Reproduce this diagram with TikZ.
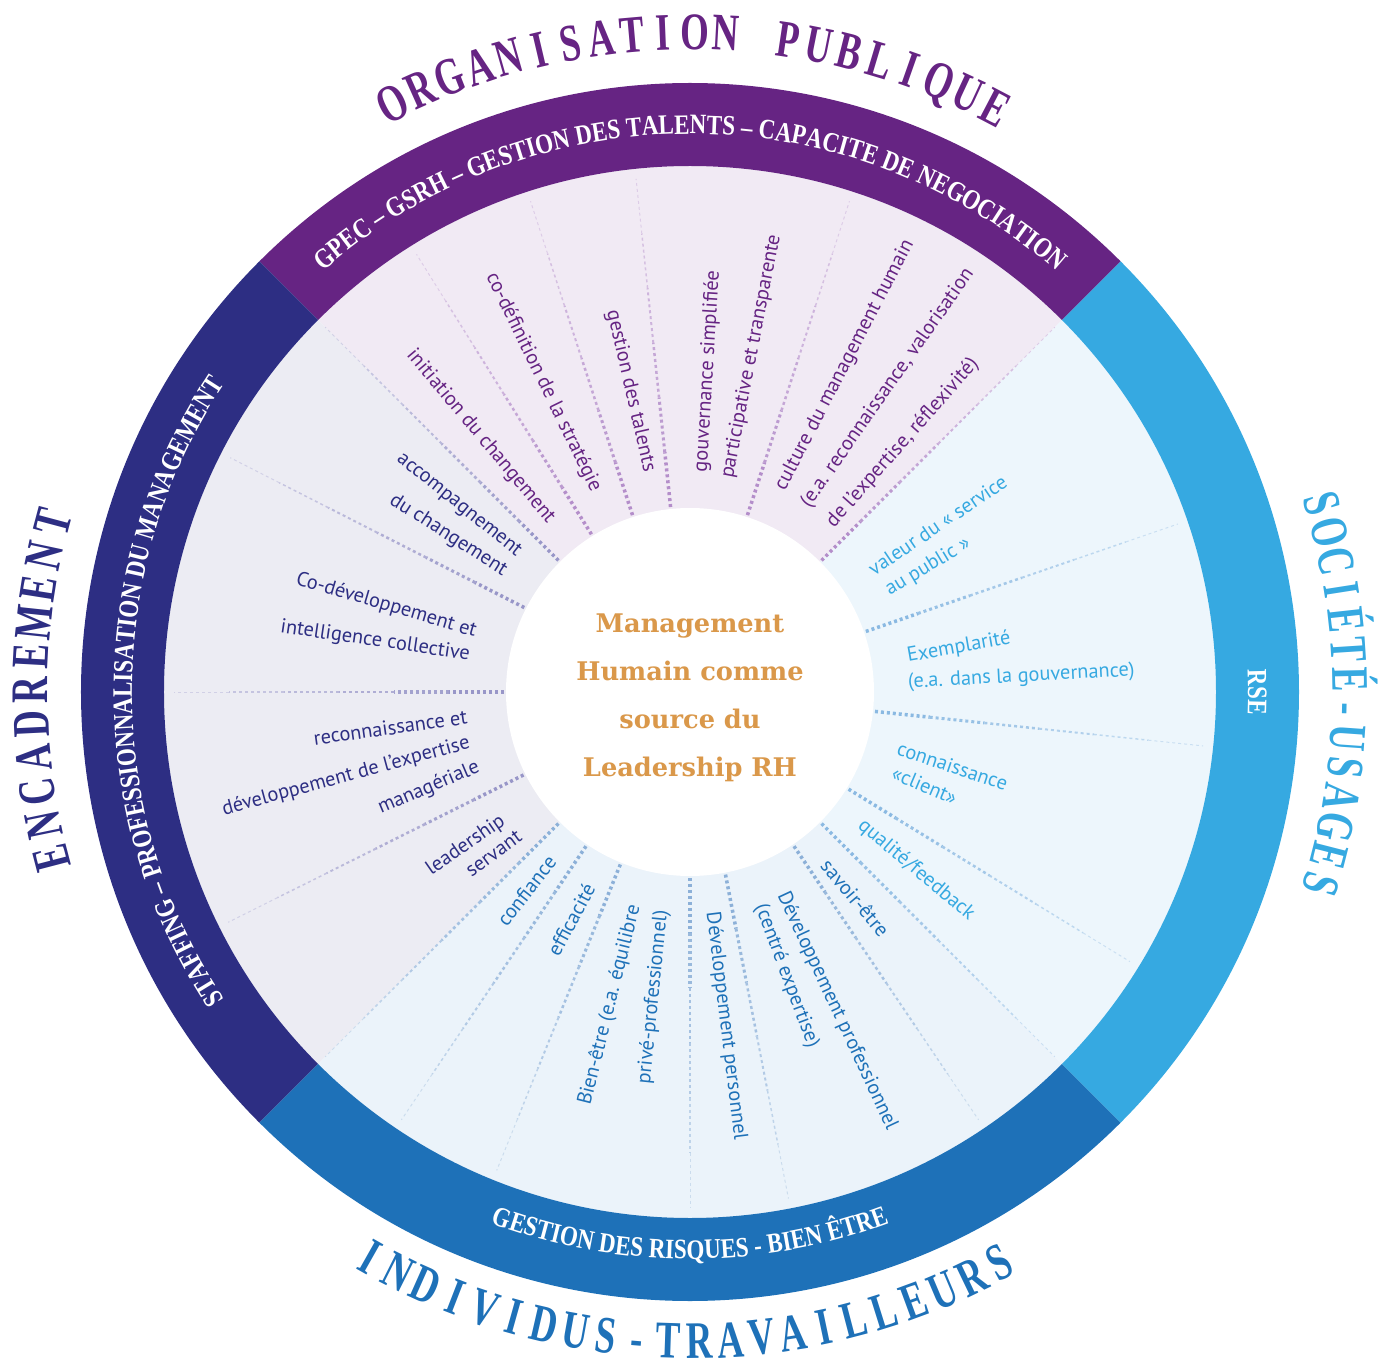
\documentclass[tikz,border=0pt]{standalone}
\usepackage{fontspec}
\usetikzlibrary{decorations.text}

\newfontfamily\lblfont{PT Sans}
\newfontfamily\ctrfont{DejaVu Serif}
\newfontfamily\bandfont[FakeStretch=0.82]{Liberation Serif}
\newfontfamily\ttlfont[FakeStretch=0.7]{Liberation Serif}

\definecolor{ctop}{RGB}{102,36,131}
\definecolor{cleft}{RGB}{45,46,131}
\definecolor{cright}{RGB}{54,169,225}
\definecolor{cbot}{RGB}{30,113,184}
\definecolor{ttop}{RGB}{241,234,244}
\definecolor{tleft}{RGB}{236,236,243}
\definecolor{tright}{RGB}{237,246,252}
\definecolor{tbot}{RGB}{235,243,250}
\definecolor{spktop}{RGB}{180,142,202}
\definecolor{spkleft}{RGB}{152,150,200}
\definecolor{spkright}{RGB}{138,185,226}
\definecolor{spkbot}{RGB}{140,176,216}
\definecolor{corange}{RGB}{218,152,74}

% dotted spoke that thins out towards the rim
\newcommand\radline[2]{%
  \foreach \k in {0,...,5}{%
    \pgfmathsetmacro\w{2.0-0.29*\k}%
    \pgfmathtruncatemacro\op{100-11*\k}%
    \draw[#2!\op, line width=\w pt, dash pattern=on 1.7pt off 1.7pt]
      (#1:{186+55*\k}) -- (#1:{186+55*(\k+1)});
  }%
}

\begin{document}
\begin{tikzpicture}[x=0.02cm, y=0.02cm,
    lbl/.style={font=\lblfont\fontsize{11.6}{13}\selectfont, inner sep=0pt},
    lout/.style={lbl, anchor=west},
    lin/.style={lbl, anchor=east},
    ttl/.style={font=\ttlfont\bfseries\fontsize{30}{32}\selectfont, inner sep=0pt,
      text height=20pt, text depth=0pt, anchor=center},
    band/.style={decorate, decoration={text along path, text align=center,
      text={|\bandfont\bfseries\fontsize{16}{18}\selectfont\color{white}|#1}}}]
  \useasboundingbox (-690,-677) rectangle (699,692);

  % tinted quarters and outer ring
  \foreach \a/\ring/\tint in {45/ctop/ttop, 135/cleft/tleft, 225/cbot/tbot, -45/cright/tright}{
    \fill[\tint] (0,0) -- (\a:526) arc[start angle=\a, end angle=\a+90, radius=526] -- cycle;
    \fill[\ring] (\a:526) -- (\a:609) arc[start angle=\a, end angle=\a+90, radius=609]
      -- (\a+90:526) arc[start angle=\a+90, end angle=\a, radius=526] -- cycle;
  }

  % spokes
  \foreach \a in {45,72,96,108,122}{\radline{\a}{spktop}}
  \foreach \a in {135,153,180,206.5}{\radline{\a}{spkleft}}
  \foreach \a in {-135,-124,-112,-90,-79,-56}{\radline{\a}{spkbot}}
  \foreach \a in {-45,-31.5,-6,19}{\radline{\a}{spkright}}

  \fill[white] (0,0) circle[radius=184];

  % texts in the ring
  \path[band={GPEC – GSRH – GESTION DES TALENTS – CAPACITE DE NEGOCIATION}]
    (150:558) arc[start angle=150, end angle=30, radius=558];
  \path[band={STAFFING – PROFESSIONNALISATION DU MANAGEMENT}]
    (225:558) arc[start angle=225, end angle=135, radius=558];
  \path[band={RSE}]
    (20:558) arc[start angle=20, end angle=-20, radius=558];
  \path[band={GESTION DES RISQUES - BIEN ÊTRE}]
    (225:567) arc[start angle=225, end angle=315, radius=567];

  % titles around the wheel
  \foreach \ch [count=\i from 0] in {O,R,G,A,N,I,S,A,T,I,O,N,{},P,U,B,L,I,Q,U,E}{
    \pgfmathsetmacro\a{116.8-2.72*\i}
    \node[ttl, text=ctop, rotate=\a-90] (org\i) at (\a:660) {\ch};
  }
  \foreach \ch [count=\i from 0] in {E,N,C,A,D,R,E,M,E,N,T}{
    \pgfmathsetmacro\a{194.6-2.95*\i}
    \node[ttl, text=cleft, rotate=\a-90] (enc\i) at (\a:660) {\ch};
  }
  \foreach \ch [count=\i from 0] in {S,O,C,I,É,T,É,-,U,S,A,G,E,S}{
    \pgfmathsetmacro\a{16.6-2.58*\i}
    \node[ttl, text=cright, rotate=\a-90] (soc\i) at (\a:660) {\ch};
  }
  \foreach \ch [count=\i from 0] in {I,N,D,I,V,I,D,U,S,-,T,R,A,V,A,I,L,L,E,U,R,S}{
    \pgfmathsetmacro\a{-119.5+2.76*\i}
    \node[ttl, text=cbot, rotate=\a+90] (ind\i) at (\a:649) {\ch};
  }

  % centre
  \node[font=\ctrfont\bfseries\fontsize{14.6}{27.3}\selectfont, text=corange, align=center]
    (core) at (0,-6) {Management\\Humain comme\\source du\\Leadership RH};

  % organisation
  \node[lin, text=ctop, rotate=-50] (ini) at (129:220) {initiation du changement};
  \node[lin, text=ctop, rotate=-64] (codef) at (115:222) {co-définition de la stratégie};
  \node[lin, text=ctop, rotate=-77] (gtal) at (100.5:224) {gestion des talents};
  \node[lout, text=ctop, rotate=86.5] (gouv) at (87:220) {gouvernance simplifiée};
  \node[lout, text=ctop, rotate=79] (part) at (80:217) {participative et transparente};
  \node[lout, text=ctop, rotate=62.5] (cult) at (66:222) {culture du management humain};
  \node[lout, text=ctop, rotate=55] (reco) at (58.2:219) {(e.a. reconnaissance, valorisation};
  \node[lout, text=ctop, rotate=48.5] (refl) at (50:218) {de l’expertise, réflexivité)};

  % societe
  \node[lout, text=cright, rotate=34] (val) at (34:217) {valeur du « service};
  \node[lout, text=cright, rotate=31] (pub) at (27:221) {au public »};
  \node[lout, text=cright, rotate=10] (exem) at (9.2:220) {Exemplarité};
  \node[lout, text=cright, rotate=3] (gouvb) at (2.4:218) {(e.a. dans la gouvernance)};
  \node[lout, text=cright, rotate=-18.5] (conn) at (-15:215) {connaissance};
  \node[lout, text=cright, rotate=-23] (cli) at (-21.5:218) {«client»};
  \node[lout, text=cright, rotate=-40] (qual) at (-37.6:215) {qualité/feedback};

  % individus
  \node[lin, text=cbot, rotate=52] (conf) at (230.3:216) {confiance};
  \node[lin, text=cbot, rotate=62] (effi) at (242.5:217) {efficacité};
  \node[lin, text=cbot, rotate=76] (bien) at (255.5:220) {Bien-être (e.a. équilibre};
  \node[lin, text=cbot, rotate=84.3] (priv) at (262.7:220) {privé-professionnel)};
  \node[lout, text=cbot, rotate=-83] (dperso) at (-84.3:221) {Développement personnel};
  \node[lout, text=cbot, rotate=-69.5] (cexp) at (-71.8:224) {(centré expertise)};
  \node[lout, text=cbot, rotate=-65] (dpro) at (-65.4:221) {Développement professionnel};
  \node[lout, text=cbot, rotate=-50] (savo) at (-51.5:217) {savoir-être};

  % encadrement
  \node[lin, text=cleft, rotate=-38.6] (acc) at (141:220) {accompagnement};
  \node[lin, text=cleft, rotate=-32.7] (duch) at (147:220) {du changement};
  \node[lin, text=cleft, rotate=-16.4] (codev) at (164.3:222) {Co-développement et};
  \node[lin, text=cleft, rotate=-8.4] (intel) at (170.5:223) {intelligence collective};
  \node[lin, text=cleft, rotate=7.9] (recn) at (186.4:224) {reconnaissance et};
  \node[lin, text=cleft, rotate=15.2] (dexp) at (193:226) {développement de l’expertise};
  \node[lin, text=cleft, rotate=23] (mana) at (199.5:224) {managériale};
  \node[lin, text=cleft, rotate=34.7] (lead) at (214.4:226) {leadership};
  \node[lin, text=cleft, rotate=36] (serv) at (220:222) {servant};
\end{tikzpicture}
\end{document}
